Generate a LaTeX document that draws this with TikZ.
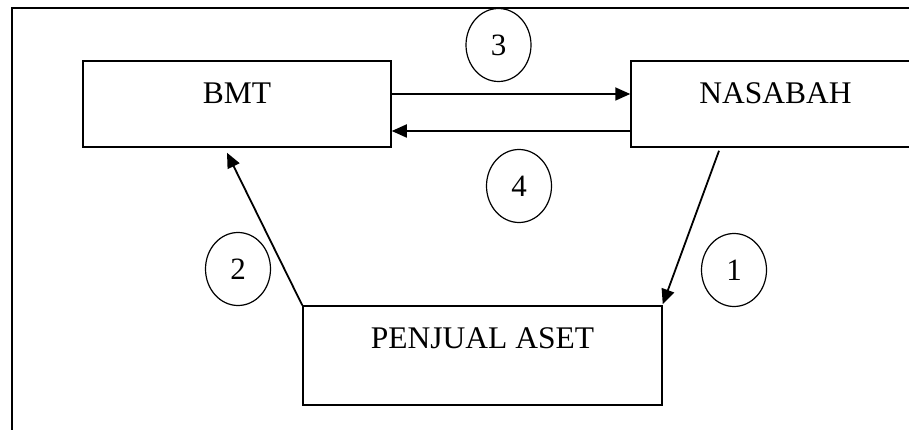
\documentclass[tikz,border=0pt]{standalone}
\usepackage{fontspec}
\setmainfont{Liberation Serif}
\usetikzlibrary{arrows.meta,shapes.geometric}
\begin{document}
\begin{tikzpicture}[x=1pt,y=-1pt,
  box/.style={draw,line width=1.5pt,rectangle,inner sep=0pt,
    font=\fontsize{31.5}{36}\selectfont},
  num/.style={draw,line width=1.2pt,ellipse,inner sep=0pt,
    minimum width=65pt,minimum height=73pt,
    font=\fontsize{31}{36}\selectfont},
  arr/.style={line width=1.8pt,-{Triangle[length=15pt,width=13pt]}},
  frame/.style={line width=1.5pt}]
\useasboundingbox (0,0) rectangle (909,430);
\clip (0,0) rectangle (909,430);
\draw[frame] (920,8) -- (12,8) -- (12,440);
\node[box,minimum width=308pt,minimum height=86pt,text height=22pt,text depth=22pt] (bmt) at (237,104) {BMT};
\node[box,minimum width=289pt,minimum height=86pt,text height=22pt,text depth=22pt] (nas) at (775.5,104) {NASABAH};
\node[box,minimum width=359pt,minimum height=99pt,text height=22pt,text depth=37pt] (pen) at (482.5,355.5) {PENJUAL ASET};
\node[num] (n3) at (498.5,45) {3};
\node[num] (n4) at (519,186) {4};
\node[num] (n2) at (238,269) {2};
\node[num] (n1) at (734,270) {1};
\draw[arr] ([yshift=10pt]bmt.east) -- ([yshift=10pt]nas.west);
\draw[arr] ([yshift=-27pt]nas.west) -- ([yshift=-27pt]bmt.east);
\draw[arr] ([xshift=-56.5pt,yshift=-3pt]nas.south) -- ([yshift=1pt]pen.north east);
\draw[arr] (pen.north west) -- ([xshift=-10pt,yshift=-5pt]bmt.south);
\end{tikzpicture}
\end{document}
